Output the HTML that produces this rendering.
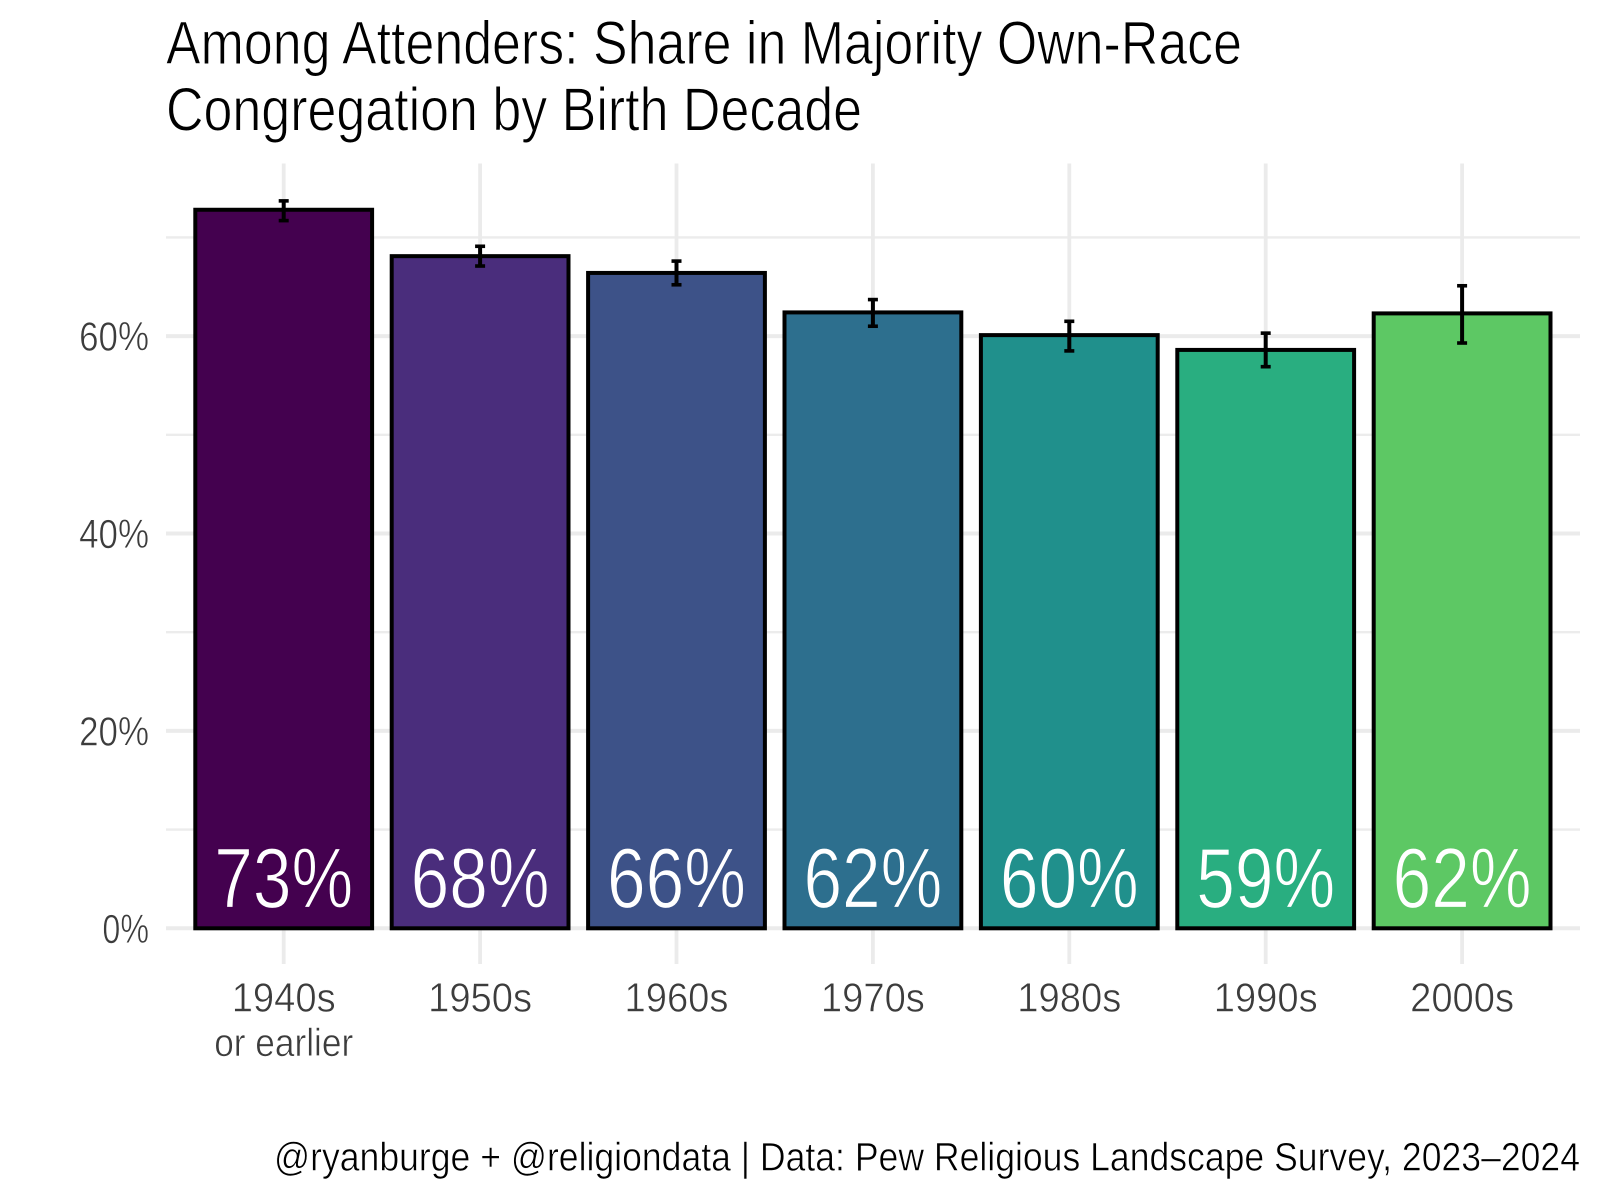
<!DOCTYPE html>
<html lang="en">
<head>
<meta charset="utf-8">
<title>Among Attenders: Share in Majority Own-Race Congregation by Birth Decade</title>
<style>
  html, body { margin: 0; padding: 0; background: #fff; }
  svg { display: block; font-family: "Liberation Sans", sans-serif; }
</style>
</head>
<body>
<svg id="chart" xmlns="http://www.w3.org/2000/svg" width="1600" height="1200" viewBox="0 0 1600 1200">
  <rect x="0" y="0" width="1600" height="1200" fill="#ffffff"/>
  <g id="grid"></g>
  <g id="bars"></g>
  <g id="errors"></g>
  <g id="values"></g>
  <g id="yaxis"></g>
  <g id="xaxis"></g>
  <text x="166" y="64" font-size="61.5" fill="#000" stroke="#fff" stroke-width="1" textLength="1076" lengthAdjust="spacingAndGlyphs">Among Attenders: Share in Majority Own-Race</text>
  <text x="166" y="130.5" font-size="61.5" fill="#000" stroke="#fff" stroke-width="1" textLength="696" lengthAdjust="spacingAndGlyphs">Congregation by Birth Decade</text>
  <text x="274" y="1170.5" font-size="39.5" fill="#000" stroke="#fff" stroke-width="0.6" textLength="1306" lengthAdjust="spacingAndGlyphs">@ryanburge + @religiondata | Data: Pew Religious Landscape Survey, 2023–2024</text>
</svg>
<script>
const categories = ['1940s', '1950s', '1960s', '1970s', '1980s', '1990s', '2000s'];
const categorySublabels = ['or earlier', '', '', '', '', '', ''];
const values = [72.8, 68.1, 66.4, 62.4, 60.1, 58.6, 62.3];
const errorLow = [71.7, 67.1, 65.2, 61.0, 58.5, 56.9, 59.3];
const errorHigh = [73.7, 69.1, 67.6, 63.7, 61.5, 60.3, 65.1];
const barColors = ['#44014f', '#4a2d7c', '#3d5288', '#2d6f8e', '#20908c', '#29ae80', '#5dc864'];
const majorTicks = [0, 20, 40, 60];
const minorTicks = [10, 30, 50, 70];
const majorTickLabels = ['0%', '20%', '40%', '60%'];

const NS = 'http://www.w3.org/2000/svg';
const panel = { left: 166, right: 1580, top: 163.5, bottom: 964 };
const xScale = i => 283.7 + 196.4 * i;
const yScale = v => 928.3 - 9.87 * v;
const bandwidth = 176.8;

function mk(parentId, tag, attrs, txt) {
  const el = document.createElementNS(NS, tag);
  for (const k in attrs) el.setAttribute(k, attrs[k]);
  if (txt !== undefined) el.textContent = txt;
  document.getElementById(parentId).appendChild(el);
  return el;
}

minorTicks.forEach(t => {
  const line = mk('grid', 'line', { x1: panel.left, x2: panel.right, y1: yScale(t), y2: yScale(t), stroke: '#ececec', 'stroke-width': 2.4 });
  
  
});
majorTicks.forEach(t => {
  const line = mk('grid', 'line', { x1: panel.left, x2: panel.right, y1: yScale(t), y2: yScale(t), stroke: '#ebebeb', 'stroke-width': 4 });
  
  
});
categories.forEach((c, i) => {
  const line = mk('grid', 'line', { x1: xScale(i), x2: xScale(i), y1: panel.top, y2: panel.bottom, stroke: '#ebebeb', 'stroke-width': 3.8 });
  
  
});

categories.forEach((c, i) => {
  const bar = mk('bars', 'rect', {
    x: xScale(i) - bandwidth / 2,
    y: yScale(values[i]),
    width: bandwidth,
    height: yScale(0) - yScale(values[i]),
    fill: barColors[i],
    stroke: '#000',
    'stroke-width': 4
  });
  
  

  const stem = mk('errors', 'line', { x1: xScale(i), x2: xScale(i), y1: yScale(errorHigh[i]), y2: yScale(errorLow[i]), stroke: '#000', 'stroke-width': 4 });
  
  

  const capTop = mk('errors', 'line', { x1: xScale(i) - 5, x2: xScale(i) + 5, y1: yScale(errorHigh[i]), y2: yScale(errorHigh[i]), stroke: '#000', 'stroke-width': 3.6 });
  
  

  const capBottom = mk('errors', 'line', { x1: xScale(i) - 5, x2: xScale(i) + 5, y1: yScale(errorLow[i]), y2: yScale(errorLow[i]), stroke: '#000', 'stroke-width': 3.6 });
  
  

  const printed = Math.round(values[i]) + '%';
  const valueLabel = mk('values', 'text', {
    x: xScale(i), y: 907.5, 'font-size': 85, fill: '#fff', stroke: barColors[i], 'stroke-width': 1.2, 'text-anchor': 'middle',
    textLength: printed.length * 46.3, lengthAdjust: 'spacingAndGlyphs'
  }, printed);
  
  

  const catLabel = mk('xaxis', 'text', {
    x: xScale(i), y: 1011.5, 'font-size': 40.5, fill: '#3c3c3c', stroke: '#fff', 'stroke-width': 0.6, 'text-anchor': 'middle',
    textLength: c.length * 20.8, lengthAdjust: 'spacingAndGlyphs'
  }, c);
  
  

  if (categorySublabels[i]) {
    const sub = mk('xaxis', 'text', {
      x: xScale(i), y: 1056, 'font-size': 38.5, fill: '#3c3c3c', stroke: '#fff', 'stroke-width': 0.6, 'text-anchor': 'middle',
      textLength: categorySublabels[i].length * 13.9, lengthAdjust: 'spacingAndGlyphs'
    }, categorySublabels[i]);
    
    
  }
});

majorTicks.forEach((t, i) => {
  const label = mk('yaxis', 'text', {
    x: 149, y: yScale(t) + 14.5, 'font-size': 40.5, fill: '#3c3c3c', stroke: '#fff', 'stroke-width': 0.6, 'text-anchor': 'end',
    textLength: majorTickLabels[i].length * 23.3, lengthAdjust: 'spacingAndGlyphs'
  }, majorTickLabels[i]);
  
  
});
</script>
</body>
</html>
